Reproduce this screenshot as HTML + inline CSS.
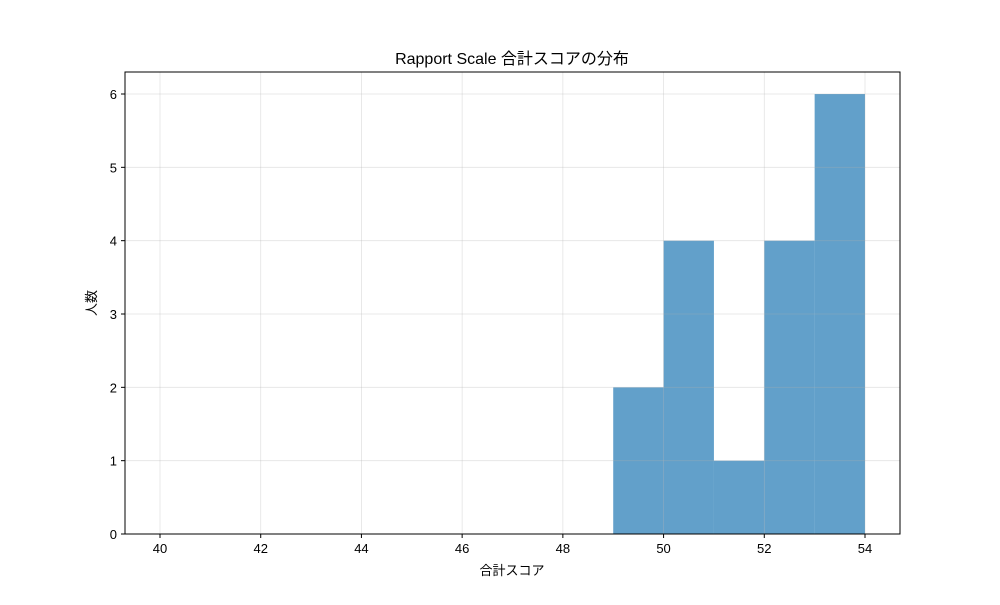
<!DOCTYPE html>
<html><head><meta charset="utf-8"><style>
body{margin:0;background:#fff}
svg text{font-family:"Liberation Sans","Noto Sans CJK JP",sans-serif;fill:#000}
</style></head><body>
<svg id="chart" width="1000" height="600">
<rect width="1000" height="600" fill="#fff"/>
<text x="512" y="64" font-size="16" text-anchor="middle">Rapport Scale 合計スコアの分布</text>
<text x="512" y="575" font-size="13" text-anchor="middle">合計スコア</text>
<text transform="translate(96,303) rotate(-90)" font-size="13" text-anchor="middle">人数</text>
<g id="bars"></g><g id="grid"></g><g id="ticks"></g>
<rect x="125" y="72" width="775" height="462" fill="none" stroke="#000" stroke-width="1"/>
</svg>
<script>
const binEdges=[40,41,42,43,44,45,46,47,48,49,50,51,52,53,54];
const counts=[0,0,0,0,0,0,0,0,0,2,4,1,4,6];
const xTicks=[40,42,44,46,48,50,52,54];
const yTicks=[0,1,2,3,4,5,6];
const L=125,R=900,T=72,B=534;
const xs=v=>160+(v-40)*(865-160)/14;
const ys=v=>B-v*(B-94)/6;
const NS="http://www.w3.org/2000/svg";
function mk(t,a,p){const e=document.createElementNS(NS,t);for(const k in a)e.setAttribute(k,a[k]);p.appendChild(e);return e;}
const bars=document.getElementById('bars'),grid=document.getElementById('grid'),ticks=document.getElementById('ticks');
counts.forEach((c,i)=>{if(c<=0)return;
const r=mk('rect',{x:xs(binEdges[i]),y:ys(c),width:xs(binEdges[i+1])-xs(binEdges[i]),height:B-ys(c),fill:'#1f77b4','fill-opacity':0.7},bars);

});
xTicks.forEach(v=>{const x=xs(v);
const g=mk('line',{x1:x,x2:x,y1:T,y2:B,stroke:'#b0b0b0','stroke-opacity':0.35,'stroke-width':0.8},grid);

mk('line',{x1:x,x2:x,y1:B,y2:B+4,stroke:'#000'},ticks);
const t=mk('text',{x:x,y:B+19,'font-size':13,'text-anchor':'middle'},ticks);t.textContent=v;
});
yTicks.forEach(v=>{const y=ys(v);
const g=mk('line',{x1:L,x2:R,y1:y,y2:y,stroke:'#b0b0b0','stroke-opacity':0.35,'stroke-width':0.8},grid);

mk('line',{x1:L-4,x2:L,y1:y,y2:y,stroke:'#000'},ticks);
const t=mk('text',{x:L-8,y:y+5,'font-size':13,'text-anchor':'end'},ticks);t.textContent=v;
});
</script>
</body></html>
